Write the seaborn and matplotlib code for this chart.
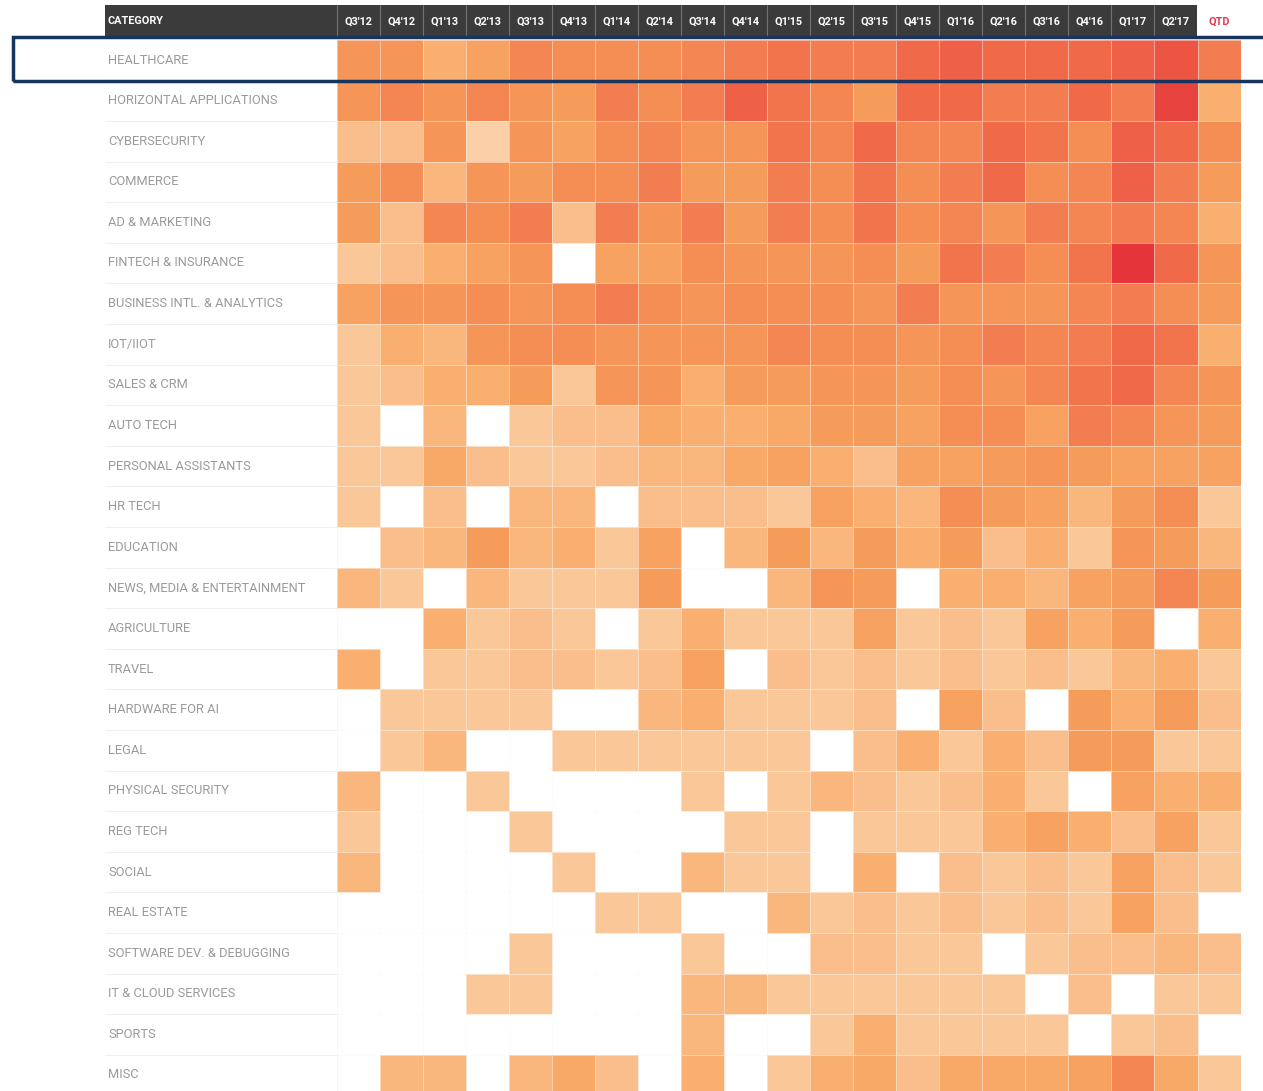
import numpy as np
import pandas as pd
import matplotlib.pyplot as plt
import seaborn as sns
from matplotlib.colors import LinearSegmentedColormap
from matplotlib.patches import Rectangle
from matplotlib.lines import Line2D
from matplotlib.transforms import blended_transform_factory

sns.set_theme(style='white')
plt.rcParams['font.family'] = ['Roboto', 'DejaVu Sans']

# Quarters (columns) and categories (rows)
quarters = ["Q3'12", "Q4'12", "Q1'13", "Q2'13", "Q3'13", "Q4'13", "Q1'14", "Q2'14",
            "Q3'14", "Q4'14", "Q1'15", "Q2'15", "Q3'15", "Q4'15", "Q1'16", "Q2'16",
            "Q3'16", "Q4'16", "Q1'17", "Q2'17", "QTD"]

categories = ['HEALTHCARE', 'HORIZONTAL APPLICATIONS', 'CYBERSECURITY', 'COMMERCE',
              'AD & MARKETING', 'FINTECH & INSURANCE', 'BUSINESS INTL. & ANALYTICS',
              'IOT/IIOT', 'SALES & CRM', 'AUTO TECH', 'PERSONAL ASSISTANTS', 'HR TECH',
              'EDUCATION', 'NEWS, MEDIA & ENTERTAINMENT', 'AGRICULTURE', 'TRAVEL',
              'HARDWARE FOR AI', 'LEGAL', 'PHYSICAL SECURITY', 'REG TECH', 'SOCIAL',
              'REAL ESTATE', 'SOFTWARE DEV. & DEBUGGING', 'IT & CLOUD SERVICES',
              'SPORTS', 'MISC']

# Deal intensity per category (0 = no deals)
healthcare  = [5, 5, 3, 4, 6, 5.5, 5.5, 5.5, 6, 6.5, 7, 6.5, 6.5, 7.5, 8, 7.5, 7.5, 7.5, 8, 8.5, 6.5]
horizontal  = [5, 6, 5, 6, 5, 4.5, 6.5, 5.5, 6.5, 8, 7, 6, 4.5, 7.5, 7.5, 6.5, 6.5, 7.5, 6.5, 9, 3]
cyber       = [2, 2, 5, 1, 5, 4, 5.5, 6, 5, 5, 7, 6, 7.5, 6, 6, 7.5, 7, 5.5, 8, 7.5, 5.5]
commerce    = [4.5, 5.5, 2.5, 5, 4.5, 5.5, 5.5, 6.5, 4.5, 4.5, 6.5, 5.5, 7, 5.5, 6.5, 7.5, 5.5, 6, 8, 6.5, 4.5]
ad_mkt      = [4.5, 2, 6, 5.5, 6.5, 2, 6.5, 5, 6.5, 4.5, 6.5, 5.5, 7, 5.5, 6, 5, 6.5, 6, 6.5, 6, 3]
fintech     = [1.5, 2, 3, 4, 5, 0, 4, 4, 5.5, 5, 5, 5, 5.5, 4.5, 7, 6.5, 5.5, 7, 9.5, 7.5, 5]
bi          = [4, 5, 5, 5.5, 5, 5.5, 6.5, 5.5, 5, 5.5, 5.5, 5.5, 5, 6.5, 5, 5, 5, 6, 6.5, 5.5, 4.5]
iot         = [1.5, 3, 2.5, 5, 5.5, 5.5, 5, 5, 5, 5, 6, 5.5, 5.5, 5, 5.5, 6.5, 6, 6.5, 7.5, 7, 3]
sales       = [1.5, 2, 3, 3, 4.5, 1.5, 5, 5, 3, 4.5, 4.5, 5, 5, 4.5, 5.5, 5, 6, 7, 7.5, 6, 5]
auto        = [1.5, 0, 2.5, 0, 1.5, 2, 2, 3.5, 3, 3, 3.5, 4.5, 4.5, 4, 5.5, 5.5, 4, 6.5, 6, 5, 4.5]
assistants  = [1.5, 1.5, 3.5, 2, 1.5, 1.5, 2, 2.5, 2.5, 3.5, 4, 3, 2, 4, 4, 4.5, 5, 4.5, 4, 4, 4]
hr          = [1.5, 0, 2, 0, 2.5, 2.5, 0, 2, 2, 2, 1.5, 4, 3, 2.5, 5.5, 4.5, 4, 2.5, 4.5, 5.5, 1.5]
education   = [0, 2, 2.5, 4.5, 2.5, 3, 1.5, 4, 0, 2.5, 4.5, 2.5, 4.5, 3, 4.5, 2, 3, 1.5, 5, 4.5, 2.5]
media       = [2.5, 1.5, 0, 2.5, 1.5, 1.5, 1.5, 4.5, 0, 0, 2.5, 5, 4.5, 0, 3, 3, 2.5, 4, 4.5, 6, 4.5]
agriculture = [0, 0, 3, 1.5, 2, 1.5, 0, 1.5, 3, 1.5, 1.5, 1.5, 4, 1.5, 2, 1.5, 4, 3, 4.5, 0, 3]
travel      = [3, 0, 1.5, 1.5, 2, 2, 1.5, 2, 4, 0, 2, 1.5, 2, 1.5, 2, 1.5, 2, 1.5, 2.5, 3, 1.5]
hardware    = [0, 1.5, 1.5, 1.5, 1.5, 0, 0, 2.5, 3, 1.5, 1.5, 1.5, 2, 0, 4, 2, 0, 4.5, 3, 4.5, 2]
legal       = [0, 1.5, 2.5, 0, 0, 1.5, 1.5, 1.5, 1.5, 1.5, 1.5, 0, 2, 3, 1.5, 3, 2, 4.5, 4.5, 1.5, 1.5]
physical    = [2.5, 0, 0, 1.5, 0, 0, 0, 0, 1.5, 0, 1.5, 2.5, 2, 1.5, 2, 3, 1.5, 0, 4, 3, 3]
regtech     = [1.5, 0, 0, 0, 1.5, 0, 0, 0, 0, 1.5, 1.5, 0, 1.5, 1.5, 1.5, 3, 4, 3, 2, 4, 1.5]
social      = [2.5, 0, 0, 0, 0, 1.5, 0, 0, 2.5, 1.5, 1.5, 0, 3, 0, 2, 1.5, 2, 1.5, 4, 2, 1.5]
real_estate = [0, 0, 0, 0, 0, 0, 1.5, 1.5, 0, 0, 2.5, 1.5, 2, 1.5, 2, 1.5, 2, 1.5, 4, 2, 0]
software    = [0, 0, 0, 0, 1.5, 0, 0, 0, 1.5, 0, 0, 2, 2, 1.5, 1.5, 0, 1.5, 2, 2, 2.5, 2]
it_cloud    = [0, 0, 0, 1.5, 1.5, 0, 0, 0, 2.5, 2.5, 1.5, 1.5, 1.5, 1.5, 1.5, 1.5, 0, 2, 0, 1.5, 1.5]
sports      = [0, 0, 0, 0, 0, 0, 0, 0, 2.5, 0, 0, 1.5, 3, 1.5, 1.5, 1.5, 1.5, 0, 1.5, 2, 0]
misc        = [0, 2.5, 2.5, 0, 2.5, 3.5, 2, 0, 3, 0, 1.5, 3, 3.5, 2, 3.5, 3.5, 3.5, 4, 6, 3.5, 1.5]

rows = [healthcare, horizontal, cyber, commerce, ad_mkt, fintech, bi, iot, sales, auto,
        assistants, hr, education, media, agriculture, travel, hardware, legal, physical,
        regtech, social, real_estate, software, it_cloud, sports, misc]
df = pd.DataFrame(rows, index=categories, columns=quarters)

cmap = LinearSegmentedColormap.from_list('deals', [
    '#fbd0a8', '#f9bd89', '#f8ad6d', '#f7a05d', '#f59255',
    '#f38152', '#f06d4b', '#ec5745', '#e5343a'])

W, H = 1263, 1091
fig = plt.figure(figsize=(W / 100, H / 100), dpi=100)
fig.patch.set_facecolor('white')

# heatmap area in pixels
left_px, right_px, top_px, bottom_px = 336.5, 1240.6, 39.7, 1095.3
ax = fig.add_axes([left_px / W, (H - bottom_px) / H,
                   (right_px - left_px) / W, (bottom_px - top_px) / H])

sns.heatmap(df, mask=(df == 0), cmap=cmap, vmin=1, vmax=9.5, cbar=False,
            linewidths=0.6, linecolor=(1, 1, 1, 0.45),
            xticklabels=False, yticklabels=False, ax=ax)
ax.set_facecolor('white')
ax.set_xlabel('')
ax.set_ylabel('')
ax.tick_params(length=0)
for s in ax.spines.values():
    s.set_visible(False)

# faint grid behind empty cells
for i in range(len(categories) + 1):
    ax.axhline(i, color='#f3f3f3', lw=0.7, zorder=0)
for j in range(len(quarters) + 1):
    ax.axvline(j, color='#f3f3f3', lw=0.7, zorder=0)

# row labels + separators in the label column
lab_tr = blended_transform_factory(fig.transFigure, ax.transData)
for i, name in enumerate(categories):
    ax.text(108 / W, i + 0.5, name, transform=lab_tr, ha='left', va='center',
            fontsize=9.3, color='#9a9a9a', clip_on=False)
for i in range(1, len(categories) + 1):
    ax.add_line(Line2D([105 / W, left_px / W], [i, i], transform=lab_tr,
                       color='#f0f0f0', lw=0.8, clip_on=False))

# header bar (drawn beneath the axes layer, it sits above the heatmap area)
hdr_top, hdr_bot = 5, 37
fig.patches.append(Rectangle((105 / W, (H - hdr_bot) / H), (1197 - 105) / W,
                             (hdr_bot - hdr_top) / H, transform=fig.transFigure,
                             facecolor='#3b3b3b', edgecolor='none', zorder=-1))
hdr_tr = blended_transform_factory(ax.transData, fig.transFigure)
hy = (H - 21.5) / H
fig.text(108 / W, hy, 'CATEGORY', ha='left', va='center', fontsize=7.8,
         fontweight='bold', color='white', zorder=3)
for j, q in enumerate(quarters):
    is_qtd = q == 'QTD'
    ax.text(j + 0.5, hy, q, transform=hdr_tr, ha='center', va='center',
            fontsize=7.8, fontweight='bold',
            color='#e8364a' if is_qtd else 'white', clip_on=False, zorder=3)
for j in range(len(quarters) - 1):
    ax.add_line(Line2D([j, j], [(H - hdr_bot) / H, (H - hdr_top) / H],
                       transform=hdr_tr, color='#727272', lw=0.8, clip_on=False,
                       zorder=3))

# highlight box around the first row
fig.patches.append(Rectangle((13.5 / W, (H - 80.5) / H), 1.2, (80.5 - 36.5) / H,
                             transform=fig.transFigure, fill=False,
                             edgecolor='#15345e', lw=2.5, zorder=5))

fig.savefig('out.png', dpi=100, facecolor='white')
